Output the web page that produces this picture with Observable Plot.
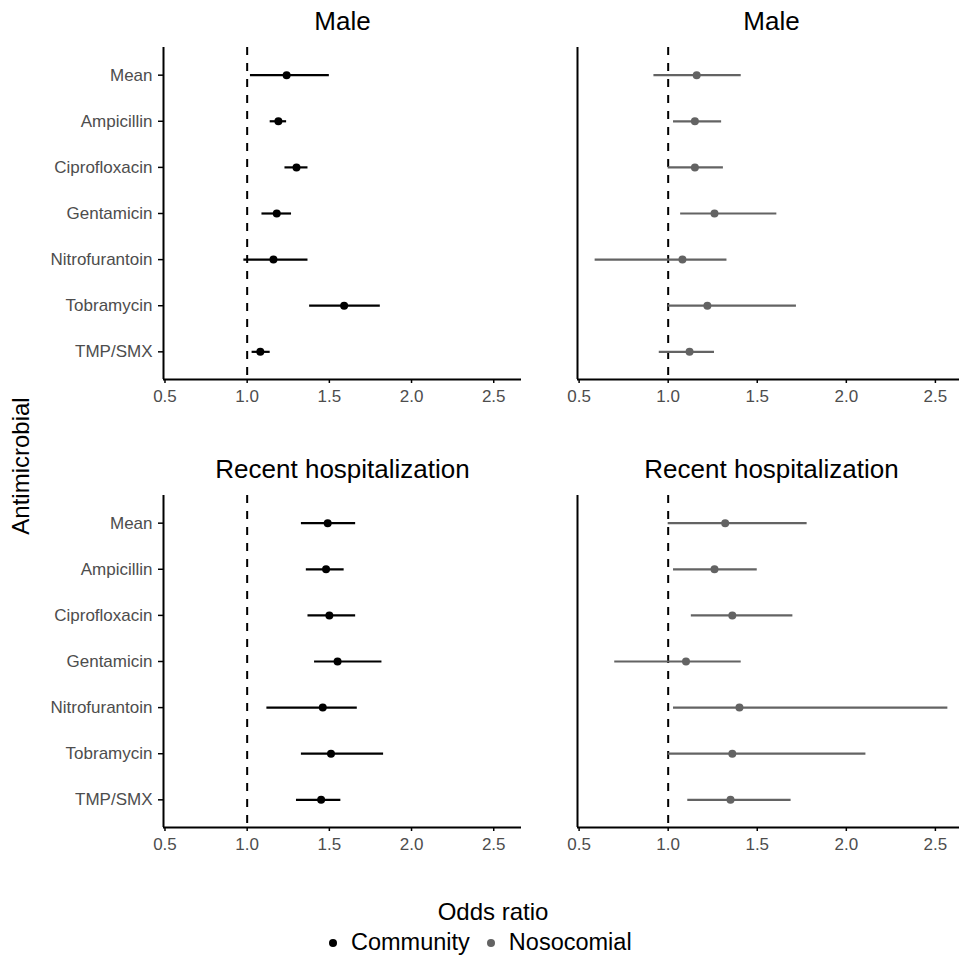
<!DOCTYPE html>
<html>
<head>
<meta charset="utf-8">
<script src="https://cdn.jsdelivr.net/npm/d3@7"></script>
<script src="https://cdn.jsdelivr.net/npm/@observablehq/plot@0.6"></script>
<style>
  html, body { margin: 0; padding: 0; background: #fff; overflow: hidden; }
  #root { position: relative; width: 959px; height: 959px; overflow: hidden; background: #fff;
          font-family: "Liberation Sans", Arial, Helvetica, sans-serif; }
  #root svg { position: absolute; }
  .lbl { position: absolute; color: #000; white-space: nowrap; }
</style>
</head>
<body>
<div id="root"></div>
<script>
// ---- data ----
const antimicrobials = ["Mean", "Ampicillin", "Ciprofloxacin", "Gentamicin", "Nitrofurantoin", "Tobramycin", "TMP/SMX"];
const groups = ["Community", "Nosocomial"];
const panelTitles = ["Male", "Recent hospitalization"];
const xTicks = [0.5, 1.0, 1.5, 2.0, 2.5];

// Male — Community
const maleCommOR = [1.24, 1.19, 1.30, 1.18, 1.16, 1.59, 1.08];
const maleCommLo = [1.02, 1.14, 1.23, 1.09, 0.98, 1.38, 1.03];
const maleCommHi = [1.50, 1.24, 1.37, 1.27, 1.37, 1.81, 1.14];
// Male — Nosocomial
const maleNosoOR = [1.16, 1.15, 1.15, 1.26, 1.08, 1.22, 1.12];
const maleNosoLo = [0.92, 1.03, 1.00, 1.07, 0.59, 1.00, 0.95];
const maleNosoHi = [1.41, 1.30, 1.31, 1.61, 1.33, 1.72, 1.26];
// Recent hospitalization — Community
const hospCommOR = [1.49, 1.48, 1.50, 1.55, 1.46, 1.51, 1.45];
const hospCommLo = [1.33, 1.36, 1.37, 1.41, 1.12, 1.33, 1.30];
const hospCommHi = [1.66, 1.59, 1.66, 1.82, 1.67, 1.83, 1.57];
// Recent hospitalization — Nosocomial
const hospNosoOR = [1.32, 1.26, 1.36, 1.10, 1.40, 1.36, 1.35];
const hospNosoLo = [1.00, 1.03, 1.13, 0.70, 1.03, 1.00, 1.11];
const hospNosoHi = [1.78, 1.50, 1.70, 1.41, 2.57, 2.11, 1.69];

const colors = {Community: "#000000", Nosocomial: "#636363"};
const FONT = "Liberation Sans, Arial, Helvetica, sans-serif";

function rows(or, lo, hi) {
  return antimicrobials.map((name, i) => ({name, i, or: or[i], lo: lo[i], hi: hi[i]}));
}

// shared x domain (ggplot 5% expansion of data range)
const allVals = [...maleCommLo, ...maleCommHi, ...maleNosoLo, ...maleNosoHi,
                 ...hospCommLo, ...hospCommHi, ...hospNosoLo, ...hospNosoHi];
const [vmin, vmax] = d3.extent(allVals);
const pad = (vmax - vmin) * 0.05;
const xDomain = [vmin - pad, vmax + pad];
const yDomain = [antimicrobials.length - 1 + 0.6, -0.6];

function panel({data, title, group, showY, left, top, width, height, mL, mR, mT, mB}) {
  const col = colors[group];
  const marks = [
    Plot.ruleX([1], {stroke: "#000", strokeWidth: 2, strokeDasharray: "8,8"}),
    Plot.ruleY(data, {y: "i", x1: "lo", x2: "hi", stroke: col, strokeWidth: 2.2}),
    Plot.dot(data, {x: "or", y: "i", r: 4, fill: col, stroke: "none"}),
    Plot.ruleX([xDomain[0]], {stroke: "#000", strokeWidth: 2}),
    Plot.ruleY([yDomain[0]], {stroke: "#000", strokeWidth: 2}),
    Plot.axisX({ticks: xTicks, tickFormat: d => d.toFixed(1), tickSize: 4, tickPadding: 6,
                fontSize: 17, fill: "#4d4d4d", stroke: "#000", strokeWidth: 1.5, label: null}),
    Plot.text([title], {text: d => d, frameAnchor: "top", lineAnchor: "bottom", dy: -18,
                        fontSize: 26, fill: "#000"})
  ];
  if (showY) {
    marks.push(Plot.axisY({ticks: d3.range(antimicrobials.length), tickFormat: i => antimicrobials[i],
                           tickSize: 5, tickPadding: 6, fontSize: 17, fill: "#4d4d4d",
                           stroke: "#000", strokeWidth: 1.5, label: null}));
  }
  const svg = Plot.plot({
    width, height,
    marginLeft: mL, marginRight: mR, marginTop: mT, marginBottom: mB,
    x: {domain: xDomain, axis: null},
    y: {domain: yDomain, axis: null},
    style: {fontFamily: FONT, overflow: "visible", background: "transparent"},
    marks
  });
  svg.style.left = left + "px";
  svg.style.top = top + "px";
  return svg;
}

const root = document.getElementById("root");
const L = {left: 0, width: 530, mL: 163, mR: 9};
const R = {left: 530, width: 440, mL: 47, mR: 5};
const T = {top: 0, height: 420, mT: 47, mB: 41};
const B = {top: 450, height: 420, mT: 45, mB: 43};

root.appendChild(panel({data: rows(maleCommOR, maleCommLo, maleCommHi), title: panelTitles[0], group: groups[0], showY: true, ...L, ...T}));
root.appendChild(panel({data: rows(maleNosoOR, maleNosoLo, maleNosoHi), title: panelTitles[0], group: groups[1], showY: false, ...R, ...T}));
root.appendChild(panel({data: rows(hospCommOR, hospCommLo, hospCommHi), title: panelTitles[1], group: groups[0], showY: true, ...L, ...B}));
root.appendChild(panel({data: rows(hospNosoOR, hospNosoLo, hospNosoHi), title: panelTitles[1], group: groups[1], showY: false, ...R, ...B}));

// y-axis title
const yt = document.createElement("div");
yt.className = "lbl";
yt.textContent = "Antimicrobial";
yt.style.fontSize = "24px";
yt.style.left = "21px";
yt.style.top = "466px";
yt.style.transform = "translate(-50%, -50%) rotate(-90deg)";
root.appendChild(yt);

// x-axis title
const xt = document.createElement("div");
xt.className = "lbl";
xt.textContent = "Odds ratio";
xt.style.fontSize = "24px";
xt.style.left = "493px";
xt.style.top = "912px";
xt.style.transform = "translate(-50%, -50%)";
root.appendChild(xt);

// legend
const leg = document.createElement("div");
leg.className = "lbl";
leg.style.left = "326px";
leg.style.top = "929px";
leg.style.fontSize = "23.5px";
leg.style.display = "flex";
leg.style.alignItems = "center";
groups.forEach((g, k) => {
  const sw = document.createElementNS("http://www.w3.org/2000/svg", "svg");
  sw.setAttribute("width", 14); sw.setAttribute("height", 14);
  sw.style.position = "static";
  sw.style.marginLeft = k ? "14px" : "0px";
  sw.style.marginRight = "11px";
  const c = document.createElementNS("http://www.w3.org/2000/svg", "circle");
  c.setAttribute("cx", 7); c.setAttribute("cy", 7); c.setAttribute("r", 4);
  c.setAttribute("fill", colors[g]);
  sw.appendChild(c);
  leg.appendChild(sw);
  const s = document.createElement("span");
  s.textContent = g;
  leg.appendChild(s);
});
root.appendChild(leg);
</script>
</body>
</html>
